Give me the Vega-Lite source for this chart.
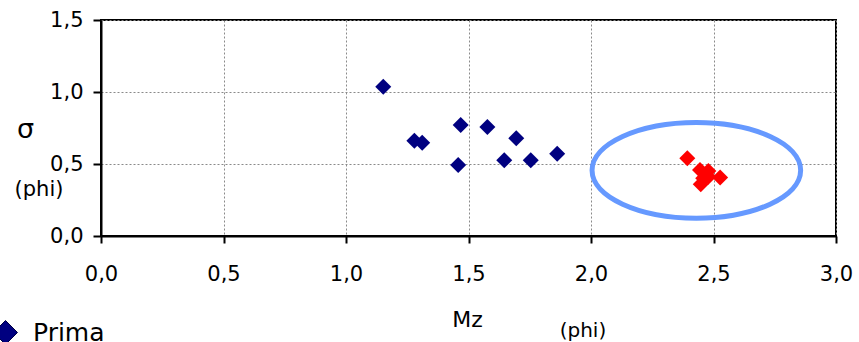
{
  "$schema": "https://vega.github.io/schema/vega-lite/v6.json",
  "width": 735,
  "height": 216,
  "autosize": {"type": "none"},
  "padding": {"left": 101, "top": 20, "right": 23, "bottom": 106},
  "background": "white",
  "config": {
    "font": "DejaVu Sans",
    "view": {"stroke": "black", "strokeWidth": 2},
    "axis": {
      "domainColor": "black",
      "domainWidth": 2,
      "tickColor": "black",
      "tickWidth": 2,
      "gridColor": "#8a8a8a",
      "gridDash": [2, 2],
      "gridWidth": 1,
      "labelFont": "DejaVu Sans",
      "labelFontSize": 21,
      "labelColor": "black",
      "titleFont": "DejaVu Sans",
      "titleFontWeight": "normal",
      "titleColor": "black"
    }
  },
  "layer": [
    {
      "data": {
        "values": [
          {"Mz": 1.152, "sigma": 1.037, "serie": "Prima"},
          {"Mz": 1.279, "sigma": 0.662, "serie": "Prima"},
          {"Mz": 1.311, "sigma": 0.648, "serie": "Prima"},
          {"Mz": 1.468, "sigma": 0.771, "serie": "Prima"},
          {"Mz": 1.458, "sigma": 0.493, "serie": "Prima"},
          {"Mz": 1.577, "sigma": 0.757, "serie": "Prima"},
          {"Mz": 1.695, "sigma": 0.678, "serie": "Prima"},
          {"Mz": 1.646, "sigma": 0.526, "serie": "Prima"},
          {"Mz": 1.754, "sigma": 0.526, "serie": "Prima"},
          {"Mz": 1.862, "sigma": 0.572, "serie": "Prima"},
          {"Mz": 2.393, "sigma": 0.540, "serie": "Dopo"},
          {"Mz": 2.445, "sigma": 0.458, "serie": "Dopo"},
          {"Mz": 2.479, "sigma": 0.451, "serie": "Dopo"},
          {"Mz": 2.527, "sigma": 0.407, "serie": "Dopo"},
          {"Mz": 2.458, "sigma": 0.401, "serie": "Dopo"},
          {"Mz": 2.448, "sigma": 0.359, "serie": "Dopo"},
          {"Mz": 2.479, "sigma": 0.412, "serie": "Dopo"}
        ]
      },
      "mark": {"type": "point", "shape": "diamond", "filled": true, "size": 256, "opacity": 1},
      "encoding": {
        "x": {
          "field": "Mz", "type": "quantitative",
          "scale": {"domain": [0, 3], "nice": false, "zero": false},
          "axis": {
            "values": [0, 0.5, 1, 1.5, 2, 2.5, 3],
            "tickSize": 7,
            "labelPadding": 20,
            "labelExpr": "replace(format(datum.value, '.1f'), '.', ',')",
            "labelFlush": false,
            "title": "Mz",
            "titleFontSize": 22,
            "titleBaseline": "alphabetic",
            "titleAlign": "center",
            "titleX": 366,
            "titleY": 90
          }
        },
        "y": {
          "field": "sigma", "type": "quantitative",
          "scale": {"domain": [0, 1.5], "nice": false, "zero": false},
          "axis": {
            "values": [0, 0.5, 1, 1.5],
            "tickSize": 8,
            "labelPadding": 10,
            "labelExpr": "replace(format(datum.value, '.1f'), '.', ',')",
            "labelFlush": false,
            "title": "σ",
            "titleFontSize": 27,
            "titleAngle": 0,
            "titleAlign": "center",
            "titleBaseline": "alphabetic",
            "titleX": -76,
            "titleY": 117
          }
        },
        "color": {
          "field": "serie", "type": "nominal",
          "scale": {"domain": ["Prima", "Dopo"], "range": ["#000080", "#FF0000"]},
          "legend": {
            "values": ["Prima"],
            "title": null,
            "orient": "none",
            "legendX": -108,
            "legendY": 300,
            "padding": 0,
            "symbolType": "diamond",
            "symbolSize": 576,
            "symbolStrokeColor": "#000040",
            "symbolStrokeWidth": 1,
            "symbolOpacity": 1,
            "labelFontSize": 25,
            "labelFont": "DejaVu Sans",
            "labelColor": "black",
            "labelOffset": 15
          }
        }
      }
    },
    {
      "data": {"values": [{"zona": "cluster"}]},
      "mark": {
        "type": "point",
        "shape": "M-1,0 C-1,-0.2535 -0.5523,-0.459 0,-0.459 C0.5523,-0.459 1,-0.2535 1,0 C1,0.2535 0.5523,0.459 0,0.459 C-0.5523,0.459 -1,0.2535 -1,0 Z",
        "filled": false,
        "size": 43514,
        "stroke": "#6699FF",
        "strokeWidth": 5,
        "opacity": 1
      },
      "encoding": {
        "x": {"datum": 2.43},
        "y": {"datum": 0.456}
      }
    },
    {
      "data": {"values": [{"label": "(phi)"}]},
      "mark": {"type": "text", "fontSize": 21, "fontWeight": "normal", "font": "DejaVu Sans", "align": "center", "baseline": "alphabetic", "fill": "black"},
      "encoding": {
        "text": {"field": "label"},
        "x": {"datum": -0.253},
        "y": {"datum": 0.278}
      }
    },
    {
      "data": {"values": [{"label": "(phi)"}]},
      "mark": {"type": "text", "fontSize": 20, "fontWeight": "normal", "font": "DejaVu Sans", "align": "center", "baseline": "alphabetic", "fill": "black"},
      "encoding": {
        "text": {"field": "label"},
        "x": {"datum": 1.967},
        "y": {"datum": -0.703}
      }
    }
  ]
}
